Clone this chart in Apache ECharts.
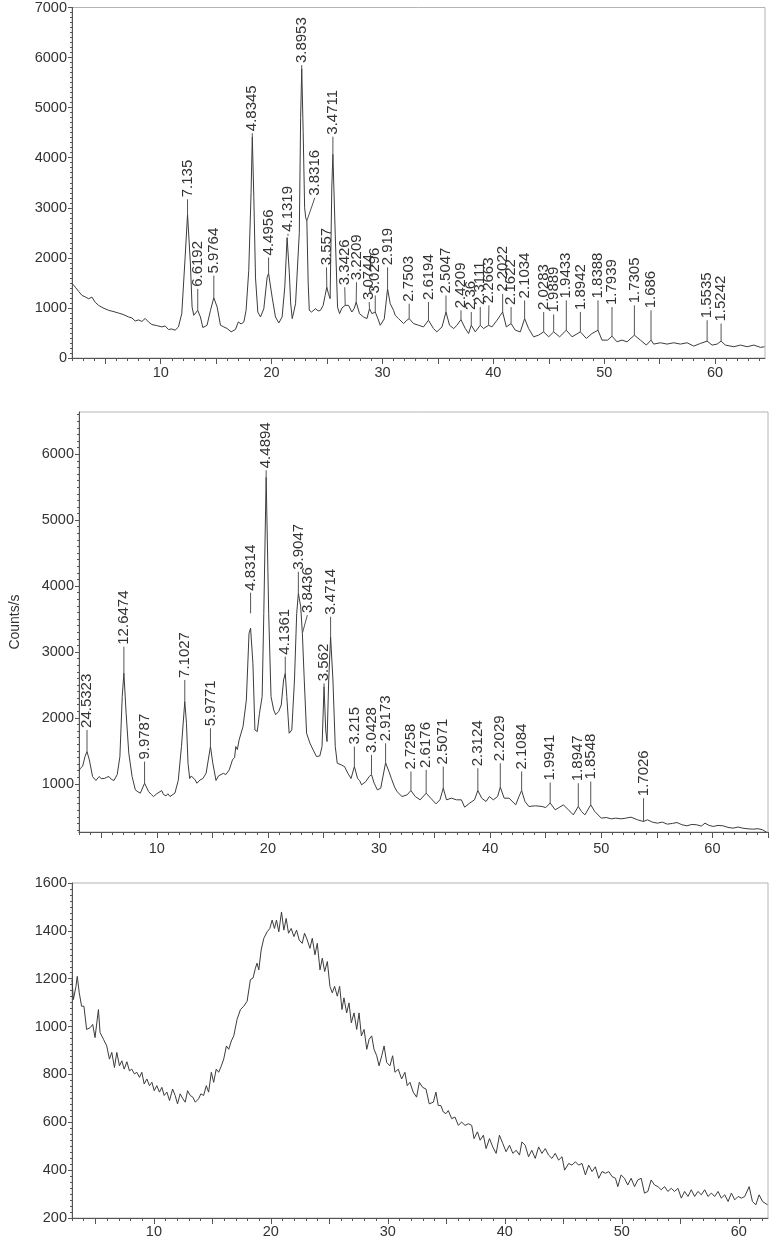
<!DOCTYPE html>
<html><head><meta charset="utf-8">
<script src="https://cdn.jsdelivr.net/npm/echarts@6/dist/echarts.min.js"></script>
<style>html,body{margin:0;padding:0;background:#fff}#c{width:769px;height:1239px}</style>
</head><body><div id="c"></div><script>
// ---------- data ----------
const xTickLabels = [10, 20, 30, 40, 50, 60];
const y1TickLabels = [0, 1000, 2000, 3000, 4000, 5000, 6000, 7000];
const y2TickLabels = [1000, 2000, 3000, 4000, 5000, 6000];
const y3TickLabels = [200, 400, 600, 800, 1000, 1200, 1400, 1600];
const yAxisTitle = 'Counts/s';

// panel 1 trace [2theta, counts]
const p1Points = [[2.0,1490],[2.3,1415],[2.6,1330],[2.9,1250],[3.2,1220],[3.5,1184],[3.8,1216],[4.1,1110],[4.4,1051],[4.8,1000],[5.3,952],[5.7,930],[6.2,898],[6.6,870],[7.1,820],[7.4,800],[7.7,740],[8.0,760],[8.3,730],[8.6,790],[8.9,720],[9.2,668],[9.6,650],[10.1,621],[10.4,640],[10.7,569],[11.0,580],[11.3,555],[11.6,621],[11.9,886],[12.2,2000],[12.42,2870],[12.68,1878],[12.83,1018],[12.98,853],[13.15,880],[13.34,952],[13.58,820],[13.8,608],[14.18,654],[14.49,952],[14.79,1203],[15.09,1018],[15.39,654],[15.69,621],[16.0,588],[16.35,522],[16.74,569],[17.0,720],[17.25,680],[17.5,720],[17.7,952],[17.94,1745],[18.15,3300],[18.26,4420],[18.4,3200],[18.55,1600],[18.76,918],[19.0,820],[19.3,985],[19.6,1613],[19.73,1690],[20.05,1216],[20.35,820],[20.65,700],[20.95,820],[21.19,1415],[21.4,2405],[21.48,2440],[21.6,1700],[21.72,1100],[21.86,787],[22.0,918],[22.16,1084],[22.34,1051],[22.5,2500],[22.62,4800],[22.72,5780],[22.85,4500],[22.98,3000],[23.08,2800],[23.18,2740],[23.3,1500],[23.4,952],[23.6,918],[23.96,985],[24.2,940],[24.41,952],[24.65,1050],[24.83,1250],[24.98,1414],[25.13,1283],[25.28,1184],[25.43,3397],[25.53,4070],[25.74,2473],[25.95,1017],[26.13,886],[26.35,1000],[26.64,1051],[26.94,1051],[27.24,918],[27.45,990],[27.63,1117],[27.93,886],[28.29,820],[28.6,787],[28.83,985],[29.05,886],[29.35,918],[29.6,780],[29.8,654],[30.16,780],[30.46,1381],[30.7,1084],[31.0,952],[31.15,853],[31.45,787],[31.9,688],[32.2,754],[32.41,787],[32.8,688],[33.25,654],[33.7,621],[34.15,754],[34.6,588],[34.9,522],[35.37,621],[35.73,918],[36.05,654],[36.42,588],[36.72,654],[37.08,767],[37.47,588],[37.77,489],[38.01,654],[38.37,522],[38.82,654],[39.12,588],[39.57,654],[39.88,621],[40.33,754],[40.63,853],[40.84,918],[41.17,621],[41.6,688],[41.98,555],[42.43,522],[42.82,787],[43.18,588],[43.63,423],[44.08,456],[44.54,522],[44.99,423],[45.44,522],[45.98,423],[46.58,555],[47.1,423],[47.85,522],[48.39,390],[48.9,489],[49.44,555],[49.8,357],[50.31,357],[50.7,436],[51.15,324],[51.6,357],[52.06,324],[52.72,456],[53.26,357],[53.8,258],[54.22,357],[54.46,278],[55.07,304],[55.67,278],[56.27,304],[56.87,278],[57.47,304],[58.08,238],[58.68,291],[59.28,337],[59.73,258],[60.18,278],[60.54,337],[60.93,258],[61.68,225],[62.29,258],[62.89,225],[63.49,258],[64.1,212],[64.45,225]];

// panel 1 peak annotations
const p1Labels = ['7.135','6.6192','5.9764','4.8345','4.4956','4.1319','3.8953','3.8316','3.557','3.4711','3.3426','3.2209','3.0744','3.0296','2.919','2.7503','2.6194','2.5047','2.4209','2.36','2.3111','2.2663','2.2022','2.1622','2.1034','2.0283','1.9889','1.9433','1.8942','1.8388','1.7939','1.7305','1.686','1.5535','1.5242'];
const p1PeakX  = [12.42,13.34,14.79,18.26,19.73,21.48,22.72,23.18,24.98,25.53,26.64,27.63,28.83,29.35,30.46,32.41,34.15,35.73,37.08,38.01,38.82,39.57,40.84,41.6,42.82,44.54,45.44,46.58,47.85,49.44,50.7,52.72,54.22,59.28,60.54];
const p1PeakY  = [2870,952,1203,4420,1690,2440,5780,2740,1414,4070,1051,1117,985,918,1381,787,754,918,767,654,654,654,918,688,787,522,522,555,522,555,436,456,357,337,337];
const p1TextX  = [12.42,13.34,14.79,18.26,19.73,21.48,22.72,23.9,24.95,25.53,26.6,27.66,28.8,29.35,30.46,32.41,34.15,35.73,37.08,38.01,38.82,39.6,40.84,41.6,42.82,44.54,45.44,46.58,47.85,49.44,50.7,52.72,54.22,59.28,60.54];
const p1TextY  = [3170,1381,1646,4490,2009,2480,5850,3200,1810,4420,1414,1513,1117,1249,1810,1084,1117,1249,952,918,1018,1051,1282,1018,1150,918,870,1150,918,1150,1018,1051,952,754,688];

// panel 2 trace
const p2Points = [[3.0,1200],[3.13,1238],[3.33,1268],[3.54,1414],[3.72,1490],[3.93,1364],[4.22,1111],[4.52,1051],[4.81,1111],[5.0,1080],[5.26,1081],[5.5,1100],[5.7,1111],[5.9,1070],[6.15,1051],[6.44,1141],[6.68,1414],[6.89,2323],[7.04,2680],[7.24,2071],[7.48,1465],[7.78,1111],[8.07,909],[8.3,880],[8.52,859],[8.9,1010],[9.26,884],[9.5,840],[9.7,808],[10.0,850],[10.15,833],[10.44,898],[10.6,840],[10.83,818],[11.0,850],[11.19,808],[11.63,859],[11.93,1051],[12.22,1566],[12.52,2250],[12.67,1919],[12.81,1313],[12.96,1081],[13.1,1120],[13.26,1111],[13.45,1060],[13.61,1010],[13.9,1060],[14.15,1081],[14.44,1162],[14.83,1566],[15.04,1313],[15.33,1051],[15.55,1120],[15.78,1141],[16.0,1160],[16.22,1141],[16.52,1212],[16.81,1364],[17.0,1400],[17.11,1566],[17.25,1520],[17.41,1667],[17.76,1869],[18.06,2273],[18.3,3283],[18.44,3360],[18.65,2828],[18.83,1818],[19.04,1793],[19.24,2071],[19.48,2323],[19.63,3586],[19.84,5650],[20.07,3586],[20.28,2323],[20.52,2121],[20.7,2050],[20.81,2071],[20.96,2096],[21.2,2197],[21.41,2576],[21.56,2677],[21.7,2323],[21.91,1768],[22.0,1740],[22.15,1818],[22.39,2576],[22.59,3586],[22.74,3890],[22.95,3687],[23.1,3283],[23.27,2576],[23.48,1768],[23.78,1617],[24.07,1515],[24.37,1414],[24.67,1424],[24.87,1566],[25.05,2475],[25.2,1818],[25.32,1642],[25.47,2576],[25.64,3232],[25.85,2576],[26.06,1566],[26.24,1313],[26.4,1330],[26.59,1288],[26.75,1300],[26.89,1263],[27.19,1162],[27.48,1081],[27.78,1263],[28.07,1081],[28.25,1050],[28.43,985],[28.81,1035],[29.11,1111],[29.32,1141],[29.56,1010],[29.85,909],[30.15,934],[30.59,1320],[30.89,1187],[31.1,1086],[31.4,950],[31.63,880],[32.07,808],[32.52,833],[32.87,899],[33.26,808],[33.7,758],[34.24,859],[34.65,783],[35.13,697],[35.48,758],[35.78,935],[36.07,758],[36.52,783],[36.96,758],[37.41,758],[37.7,647],[38.15,707],[38.59,758],[38.89,899],[39.24,783],[39.63,733],[39.93,808],[40.28,758],[40.67,808],[40.91,950],[41.26,783],[41.7,783],[42.3,682],[42.59,808],[42.83,899],[43.13,733],[43.48,657],[44.07,667],[44.67,657],[45.0,640],[45.4,710],[45.85,606],[46.59,682],[47.04,606],[47.48,530],[47.93,657],[48.22,581],[48.52,530],[49.05,682],[49.41,581],[50.0,480],[50.45,490],[50.89,470],[51.3,480],[51.78,470],[52.2,480],[52.67,495],[53.26,455],[53.8,429],[54.15,455],[54.6,420],[55.04,404],[55.5,420],[55.93,389],[56.4,400],[56.81,414],[57.25,380],[57.7,364],[58.15,385],[58.59,379],[59.0,360],[59.33,404],[59.7,370],[60.07,354],[60.5,370],[60.96,364],[61.4,340],[61.85,328],[62.3,345],[62.74,328],[63.2,318],[63.63,313],[64.1,320],[64.52,303],[64.9,263]];

const p2Labels = ['24.5323','12.6474','9.9787','7.1027','5.9771','4.8314','4.4894','4.1361','3.9047','3.8436','3.562','3.4714','3.215','3.0428','2.9173','2.7258','2.6176','2.5071','2.3124','2.2029','2.1084','1.9941','1.8947','1.8548','1.7026'];
const p2PeakX  = [3.72,7.04,8.9,12.52,14.83,18.44,19.84,21.56,22.74,23.1,25.05,25.64,27.78,29.32,30.59,32.87,34.24,35.78,38.89,40.91,42.83,45.4,47.93,49.05,53.8];
const p2PeakY  = [1490,2680,1010,2250,1566,3586,5650,2677,3890,3283,2475,3232,1263,1141,1320,899,859,935,899,950,899,710,657,682,429];
const p2TextX  = [3.72,7.04,8.9,12.52,14.83,18.44,19.84,21.56,22.74,23.55,25.05,25.64,27.78,29.32,30.59,32.87,34.24,35.78,38.89,40.91,42.83,45.4,47.93,49.05,53.8];
const p2TextY  = [1818,3080,1338,2576,1843,3900,5757,2929,4217,3560,2525,3535,1566,1439,1616,1187,1212,1262,1237,1313,1187,1020,1010,1035,783];

// panel 3 trace
const p3Points = [[3.0,1196],[3.12,1113],[3.34,1168],[3.45,1210],[3.62,1141],[3.82,1085],[4.02,1085],[4.25,988],[4.54,995],[4.77,1009],[4.97,954],[5.26,1071],[5.4,975],[5.69,947],[5.97,919],[6.2,864],[6.4,892],[6.63,829],[6.83,892],[7.06,836],[7.26,857],[7.46,822],[7.69,853],[7.91,815],[8.11,822],[8.34,802],[8.54,809],[8.77,788],[8.97,809],[9.17,760],[9.4,781],[9.62,753],[9.83,767],[10.03,732],[10.25,753],[10.48,726],[10.68,746],[10.88,712],[11.11,726],[11.34,691],[11.6,739],[11.82,712],[12.02,677],[12.25,719],[12.48,698],[12.68,684],[12.88,732],[13.11,712],[13.33,705],[13.54,684],[13.82,698],[14.02,719],[14.25,712],[14.48,753],[14.68,726],[14.91,809],[15.11,767],[15.33,822],[15.54,809],[15.77,836],[15.97,864],[16.2,919],[16.4,905],[16.62,940],[16.83,961],[17.11,1030],[17.4,1071],[17.68,1085],[17.97,1106],[18.25,1196],[18.48,1203],[18.68,1244],[18.82,1265],[18.97,1237],[19.17,1320],[19.4,1369],[19.68,1396],[19.91,1410],[20.11,1445],[20.31,1410],[20.48,1445],[20.68,1396],[20.91,1479],[21.11,1403],[21.31,1452],[21.51,1390],[21.74,1410],[21.97,1376],[22.2,1403],[22.42,1362],[22.68,1348],[22.88,1390],[23.11,1362],[23.34,1327],[23.54,1369],[23.77,1300],[23.97,1348],[24.2,1237],[24.4,1286],[24.6,1230],[24.83,1272],[25.05,1168],[25.25,1141],[25.45,1168],[25.68,1127],[25.88,1168],[26.08,1071],[26.25,1120],[26.48,1057],[26.68,1099],[26.88,1016],[27.11,1057],[27.34,988],[27.54,1057],[27.74,961],[27.97,988],[28.2,905],[28.4,947],[28.62,961],[28.82,905],[29.05,878],[29.25,836],[29.48,878],[29.68,919],[29.9,850],[30.18,836],[30.41,878],[30.61,809],[30.89,822],[31.18,781],[31.46,809],[31.66,753],[31.89,767],[32.17,726],[32.46,705],[32.69,767],[32.97,746],[33.26,739],[33.54,677],[33.89,684],[34.11,726],[34.31,670],[34.54,670],[34.74,643],[34.97,636],[35.17,649],[35.46,615],[35.74,622],[36.03,587],[36.31,601],[36.6,587],[36.88,594],[37.17,587],[37.37,532],[37.66,560],[37.89,525],[38.17,546],[38.4,490],[38.69,532],[38.97,497],[39.26,470],[39.54,546],[39.83,511],[40.11,477],[40.4,504],[40.69,470],[40.97,483],[41.26,463],[41.46,518],[41.74,504],[42.03,456],[42.31,483],[42.6,449],[42.89,497],[43.17,470],[43.46,490],[43.74,463],[44.03,449],[44.31,470],[44.6,442],[44.89,456],[45.11,400],[45.46,428],[45.74,421],[46.03,435],[46.31,421],[46.6,428],[46.89,380],[47.17,421],[47.46,394],[47.74,414],[48.03,366],[48.31,394],[48.6,387],[48.89,394],[49.17,373],[49.46,366],[49.66,331],[49.94,380],[50.23,366],[50.51,338],[50.8,366],[51.09,331],[51.37,359],[51.66,366],[51.94,304],[52.23,311],[52.51,359],[52.8,338],[53.09,331],[53.37,318],[53.66,331],[53.94,311],[54.23,324],[54.51,311],[54.8,324],[55.09,283],[55.37,311],[55.66,290],[55.94,318],[56.23,290],[56.51,311],[56.8,297],[57.09,318],[57.37,290],[57.66,304],[57.94,290],[58.23,311],[58.51,283],[58.8,297],[59.09,269],[59.37,304],[59.66,276],[59.94,290],[60.23,283],[60.51,290],[60.89,331],[61.17,269],[61.46,255],[61.74,297],[62.03,269],[62.46,255]];

// ---------- chart ----------
const FONT = '"Liberation Sans", Arial, sans-serif';
const INK = '#333';
const AX = '#555';
function range(a, b, s) { const r = []; for (let v = a; v <= b + 1e-9; v += s) r.push(+v.toFixed(4)); return r; }
const plain = v => String(v);

const grids = [
  { left: 72, top: 5, right: 4, height: 353 },
  { left: 72, top: 412, right: 1, height: 420 },
  { left: 72, top: 883, right: 1, height: 337 }
].map(g => Object.assign({ show: true, borderColor: '#b4b4b4', borderWidth: 1, backgroundColor: 'transparent' }, g));

const xRanges = [[2, 64.5, 7], [3, 65, 9], [3, 62.5, 6]];
const xAxis = [];
xRanges.forEach((r, i) => {
  const [mn, mx, mg] = r;
  xAxis.push({
    type: 'value', gridIndex: i, min: mn, max: mx, position: 'bottom',
    axisLine: { show: true, lineStyle: { color: AX, width: 1 } },
    axisTick: { show: true, customValues: range(Math.ceil(mn), Math.floor(mx), 1), length: 3, lineStyle: { color: AX } },
    axisLabel: { customValues: xTickLabels, formatter: plain, margin: mg, fontSize: 14.5, color: INK, fontFamily: FONT },
    splitLine: { show: false }
  });
  xAxis.push({
    type: 'value', gridIndex: i, min: mn, max: mx, position: 'bottom',
    axisLine: { show: false },
    axisTick: { show: true, customValues: range(5, Math.floor(mx), 5), length: 6, lineStyle: { color: AX } },
    axisLabel: { show: false }, splitLine: { show: false }
  });
});

const yLabel = { margin: 5, fontSize: 14.5, color: INK, fontFamily: FONT, formatter: plain };
const yAxis = [
  { type: 'value', gridIndex: 0, min: 0, max: 7000, position: 'left',
    axisLine: { show: true, lineStyle: { color: AX } },
    axisTick: { show: true, length: 4, customValues: y1TickLabels, lineStyle: { color: AX } },
    axisLabel: Object.assign({ customValues: y1TickLabels }, yLabel), splitLine: { show: false } },
  { type: 'value', gridIndex: 0, min: 0, max: 7000, position: 'left', axisLine: { show: false },
    axisTick: { show: true, length: 2, customValues: range(100, 6900, 100), lineStyle: { color: AX } },
    axisLabel: { show: false }, splitLine: { show: false } },
  { type: 'value', gridIndex: 1, min: 270, max: 6640, position: 'left',
    axisLine: { show: true, lineStyle: { color: AX } },
    axisTick: { show: true, length: 4, customValues: y2TickLabels, lineStyle: { color: AX } },
    axisLabel: Object.assign({ customValues: y2TickLabels }, yLabel), splitLine: { show: false },
    name: yAxisTitle, nameLocation: 'middle', nameGap: 57,
    nameTextStyle: { fontSize: 14, color: INK, fontFamily: FONT } },
  { type: 'value', gridIndex: 1, min: 270, max: 6640, position: 'left', axisLine: { show: false },
    axisTick: { show: true, length: 2, customValues: range(300, 6600, 100), lineStyle: { color: AX } },
    axisLabel: { show: false }, splitLine: { show: false } },
  { type: 'value', gridIndex: 2, min: 200, max: 1600, position: 'left',
    axisLine: { show: true, lineStyle: { color: AX } },
    axisTick: { show: true, length: 4, customValues: y3TickLabels, lineStyle: { color: AX } },
    axisLabel: Object.assign({ customValues: y3TickLabels }, yLabel), splitLine: { show: false } },
  { type: 'value', gridIndex: 2, min: 200, max: 1600, position: 'left', axisLine: { show: false },
    axisTick: { show: true, length: 2, customValues: range(225, 1575, 25), lineStyle: { color: AX } },
    axisLabel: { show: false }, splitLine: { show: false } }
];

function annotSeries(xi, yi, labels, px, py, tx, ty) {
  const data = labels.map((l, i) => [px[i], py[i], tx[i], ty[i]]);
  return {
    type: 'custom', xAxisIndex: xi, yAxisIndex: yi, data: data, silent: true, z: 5,
    renderItem: function (params, api) {
      const a = api.coord([api.value(0), api.value(1)]);
      const b = api.coord([api.value(2), api.value(3)]);
      return { type: 'group', children: [
        { type: 'line', shape: { x1: a[0], y1: a[1], x2: b[0], y2: b[1] }, style: { stroke: '#555', lineWidth: 1 } },
        { type: 'text', x: b[0], y: b[1] - 2, rotation: Math.PI / 2,
          style: { text: labels[params.dataIndex], fontSize: 15, fontFamily: FONT, fill: INK, align: 'left', verticalAlign: 'middle' } }
      ] };
    }
  };
}
function traceSeries(xi, yi, pts) {
  return { type: 'line', xAxisIndex: xi, yAxisIndex: yi, data: pts, showSymbol: false, symbol: 'none',
    lineStyle: { color: '#3c3c3c', width: 1 }, silent: true, z: 3 };
}

const chart = echarts.init(document.getElementById('c'), null, { renderer: 'canvas' });
chart.setOption({
  animation: false,
  backgroundColor: '#fff',
  textStyle: { fontFamily: FONT },
  grid: grids,
  xAxis: xAxis,
  yAxis: yAxis,
  series: [
    traceSeries(0, 0, p1Points),
    annotSeries(0, 0, p1Labels, p1PeakX, p1PeakY, p1TextX, p1TextY),
    traceSeries(2, 2, p2Points),
    annotSeries(2, 2, p2Labels, p2PeakX, p2PeakY, p2TextX, p2TextY),
    traceSeries(4, 4, p3Points)
  ]
});
</script></body></html>
